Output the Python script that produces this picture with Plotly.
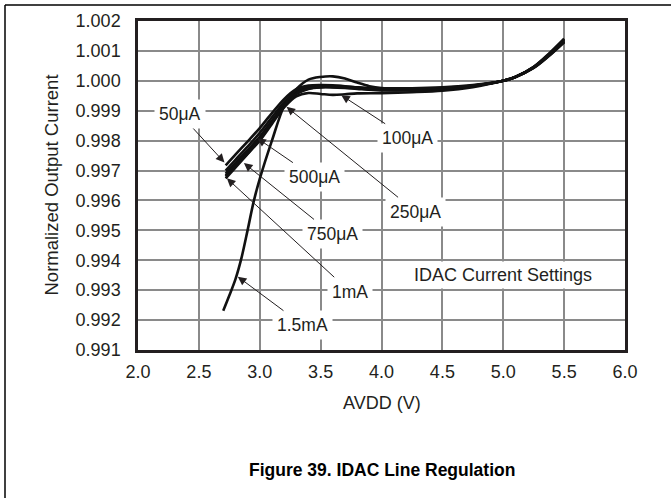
import plotly.graph_objects as go

# AVDD sweep points (V)
avdd = [2.72, 2.8, 2.9, 3.0, 3.1, 3.2, 3.3, 3.4, 3.5, 3.6, 3.7, 3.8,
        4.0, 4.25, 4.5, 4.75, 5.0, 5.1, 5.25, 5.375, 5.5]

i_50ua = [0.99717, 0.99753, 0.99797, 0.99842, 0.99892, 0.99939, 0.99972, 0.99984, 0.99986, 0.99985, 0.99982,
          0.99978, 0.99973, 0.99973, 0.99976, 0.99984, 1.00000, 1.00013, 1.00047, 1.00091, 1.00141]
i_100ua = [0.99680, 0.99714, 0.99756, 0.99800, 0.99856, 0.99911, 0.99948, 0.99959, 0.99956, 0.99953, 0.99955,
           0.99958, 0.99959, 0.99962, 0.99967, 0.99979, 1.00000, 1.00013, 1.00044, 1.00084, 1.00130]
i_250ua = [0.99690, 0.99725, 0.99768, 0.99813, 0.99866, 0.99917, 0.99956, 0.99973, 0.99978, 0.99978, 0.99976,
           0.99973, 0.99968, 0.99969, 0.99972, 0.99982, 1.00000, 1.00013, 1.00045, 1.00086, 1.00133]
i_500ua = [0.99700, 0.99736, 0.99780, 0.99826, 0.99878, 0.99929, 0.99965, 0.99980, 0.99984, 0.99983, 0.99981,
           0.99978, 0.99972, 0.99972, 0.99975, 0.99983, 1.00000, 1.00013, 1.00046, 1.00089, 1.00138]
i_750ua = [0.99684, 0.99718, 0.99762, 0.99808, 0.99864, 0.99919, 0.99958, 0.99975, 0.99981, 0.99981, 0.99979,
           0.99976, 0.99971, 0.99971, 0.99974, 0.99983, 1.00000, 1.00013, 1.00044, 1.00085, 1.00132]
i_1ma = [0.99674, 0.99710, 0.99756, 0.99804, 0.99860, 0.99917, 0.99957, 0.99974, 0.99979, 0.99979, 0.99978,
         0.99975, 0.99970, 0.99970, 0.99973, 0.99983, 1.00000, 1.00013, 1.00043, 1.00083, 1.00129]

# 1.5mA has its own sweep (steep start + small hump)
avdd_15 = [2.70, 2.75, 2.80, 2.85, 2.90, 2.95, 3.0, 3.1, 3.2, 3.3, 3.4, 3.5, 3.6, 3.7, 3.8, 3.9,
           4.0, 4.25, 4.5, 4.75, 5.0, 5.1, 5.25, 5.375, 5.5]
i_15ma = [0.99231, 0.99282, 0.99336, 0.99408, 0.99500, 0.99596, 0.99672, 0.99800, 0.99915, 0.99972, 1.00004,
          1.00013, 1.00015, 1.00008, 0.99994, 0.99982, 0.99976, 0.99975, 0.99978, 0.99986, 1.00000, 1.00013,
          1.00046, 1.00088, 1.00136]

# label text, arrow tip (V, I), text centre (V, I)
labels = ["50\u03bcA", "500\u03bcA", "750\u03bcA", "1mA", "1.5mA", "100\u03bcA", "250\u03bcA"]
tip_v = [2.71, 2.98, 2.87, 2.73, 2.82, 3.67, 3.22]
tip_i = [0.99727, 0.99808, 0.99725, 0.99674, 0.99345, 0.99952, 0.99913]
txt_v = [2.345, 3.446, 3.594, 3.741, 3.355, 4.213, 4.283]
txt_i = [0.99889, 0.99678, 0.99488, 0.99295, 0.99183, 0.99808, 0.99562]

FONT = "Liberation Sans, Arial, sans-serif"
INK = "#231f20"

fig = go.Figure()

for ys in [i_50ua, i_100ua, i_250ua, i_500ua, i_750ua, i_1ma]:
    fig.add_trace(go.Scatter(x=avdd, y=ys, mode="lines",
                             line=dict(color="#111111", width=2.6, shape="spline", smoothing=0.9)))
fig.add_trace(go.Scatter(x=avdd_15, y=i_15ma, mode="lines",
                         line=dict(color="#111111", width=2.6, shape="spline", smoothing=0.9)))

for t, x, y, ax, ay in zip(labels, tip_v, tip_i, txt_v, txt_i):
    fig.add_annotation(x=x, y=y, ax=ax, ay=ay, xref="x", yref="y", axref="x", ayref="y",
                       text=t, showarrow=True, arrowhead=2, arrowsize=1.7, arrowwidth=1,
                       arrowcolor=INK, bgcolor="white", borderpad=4,
                       font=dict(family=FONT, size=17.5, color=INK))

fig.add_annotation(x=5.0, y=0.99351, xref="x", yref="y", text="IDAC Current Settings",
                   showarrow=False, bgcolor="white", borderpad=3,
                   font=dict(family=FONT, size=18, color=INK))

# axis titles and caption
fig.add_annotation(x=-0.1786, y=0.5, xref="paper", yref="paper", text="Normalized Output Current",
                   textangle=-90, showarrow=False, xanchor="center", yanchor="middle",
                   font=dict(family=FONT, size=18.5, color=INK))
fig.add_annotation(x=0.5, y=-0.161, xref="paper", yref="paper", text="AVDD (V)",
                   showarrow=False, xanchor="center", yanchor="middle",
                   font=dict(family=FONT, size=18, color=INK))
fig.add_annotation(x=0.5, y=-0.3647, xref="paper", yref="paper",
                   text="<b>Figure 39. IDAC Line Regulation</b>",
                   showarrow=False, xanchor="center", yanchor="middle",
                   font=dict(family=FONT, size=17.5, color="black"))

# page frame (top and left rules)
fig.add_shape(type="line", xref="paper", yref="paper", x0=-0.2731, x1=1.1, y0=1.0486, y1=1.0486,
              line=dict(color="black", width=1.5))
fig.add_shape(type="line", xref="paper", yref="paper", x0=-0.2731, x1=-0.2731, y0=1.0486, y1=-0.46,
              line=dict(color="black", width=1.5))

fig.update_layout(
    width=671, height=498,
    margin=dict(l=138, r=46, t=21, b=148),
    paper_bgcolor="white", plot_bgcolor="white",
    showlegend=False,
    font=dict(family=FONT, size=18, color=INK),
)
fig.update_xaxes(range=[2, 6], dtick=0.5, tickformat=".1f", showgrid=True, gridcolor="#8a8a8a",
                 gridwidth=1.5, zeroline=False, showline=True, mirror=True, linewidth=2.5,
                 linecolor=INK, ticks="", ticklabelstandoff=4)
fig.update_yaxes(range=[0.991, 1.002], dtick=0.001, tickformat=".3f", showgrid=True, gridcolor="#8a8a8a",
                 gridwidth=1.5, zeroline=False, showline=True, mirror=True, linewidth=2.5,
                 linecolor=INK, ticks="", ticklabelstandoff=11)

fig.write_html("out.html", config={"displayModeBar": False},
               post_script="document.body.style.margin='0';")
